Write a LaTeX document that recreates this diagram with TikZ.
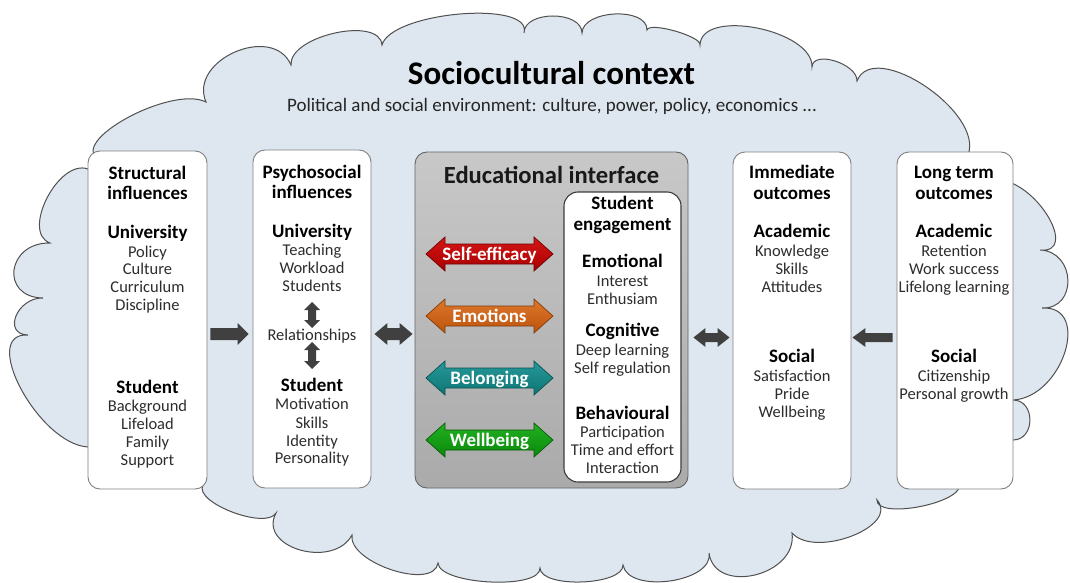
\documentclass[tikz,border=0pt]{standalone}
\usepackage{fontspec}
\setmainfont{Carlito}
\usetikzlibrary{calc}
\definecolor{cloudfill}{RGB}{222,231,240}
\definecolor{cloudline}{RGB}{80,80,80}
\definecolor{boxline}{RGB}{128,128,128}
\definecolor{innerline}{RGB}{60,60,60}
\definecolor{bodytext}{RGB}{45,45,45}
\definecolor{arrgray}{RGB}{64,64,64}
\definecolor{eduTop}{RGB}{200,200,200}
\definecolor{eduBot}{RGB}{170,170,170}
\definecolor{eduLine}{RGB}{100,100,100}
\definecolor{redT}{RGB}{214,22,22}\definecolor{redB}{RGB}{168,0,0}\definecolor{redL}{RGB}{110,0,0}
\definecolor{orT}{RGB}{222,118,42}\definecolor{orB}{RGB}{188,84,14}\definecolor{orL}{RGB}{130,60,10}
\definecolor{teT}{RGB}{38,152,152}\definecolor{teB}{RGB}{14,118,118}\definecolor{teL}{RGB}{10,80,80}
\definecolor{grT}{RGB}{34,176,34}\definecolor{grB}{RGB}{10,138,10}\definecolor{grL}{RGB}{10,90,10}
\newcommand\cbump[3]{.. controls ($0.3333*(#1)+1.3333*(#2)-0.6667*(#3)$) and ($0.3333*(#3)+1.3333*(#2)-0.6667*(#1)$) .. (#3)}
\newcommand\sarrow[6]{%
 \path[#1] ($(#2)!#4!90:(#3)$) -- ($(#3)!#6!(#2)!#4!-90:(#2)$) -- ($(#3)!#6!(#2)!#5!-90:(#2)$) -- (#3) -- ($(#3)!#6!(#2)!#5!90:(#2)$) -- ($(#3)!#6!(#2)!#4!90:(#2)$) -- ($(#2)!#4!-90:(#3)$) -- cycle;}
\newcommand\darrow[6]{%
 \path[#1] (#2) -- ($(#2)!#6!(#3)!#5!90:(#3)$) -- ($(#2)!#6!(#3)!#4!90:(#3)$) -- ($(#3)!#6!(#2)!#4!-90:(#2)$) -- ($(#3)!#6!(#2)!#5!-90:(#2)$) -- (#3) -- ($(#3)!#6!(#2)!#5!90:(#2)$) -- ($(#3)!#6!(#2)!#4!90:(#2)$) -- ($(#2)!#6!(#3)!#4!-90:(#3)$) -- ($(#2)!#6!(#3)!#5!-90:(#3)$) -- cycle;}
\tikzset{
 cloudsty/.style={fill=cloudfill, draw=cloudline, line width=1pt},
 wbox/.style={draw=boxline, fill=white, rounded corners=12pt, line width=0.9pt, inner sep=0pt},
 edubox/.style={draw=eduLine, top color=eduTop, bottom color=eduBot, rounded corners=12pt, line width=0.9pt, inner sep=0pt},
 innerbox/.style={draw=innerline, fill=white, rounded corners=14pt, line width=1.1pt, inner sep=0pt},
 grayarrow/.style={fill=arrgray},
 body/.style={anchor=base, inner sep=0pt, text=bodytext, font=\fontsize{16.5}{18}\selectfont},
 head/.style={anchor=base, inner sep=0pt, text=black, font=\fontsize{19}{21}\selectfont\bfseries},
 ttl/.style={anchor=base, inner sep=0pt, text=black, font=\fontsize{33}{36}\selectfont\bfseries},
 subttl/.style={anchor=base, inner sep=0pt, text=black!85, font=\fontsize{19}{22}\selectfont},
 edutitle/.style={anchor=base, inner sep=0pt, text=black!90, font=\fontsize{24.6}{27}\selectfont\bfseries},
 lbl/.style={anchor=base, inner sep=0pt, text=white, font=\fontsize{19}{21}\selectfont\bfseries},
}
\begin{document}
\begin{tikzpicture}[x=1pt,y=-1pt]
\useasboundingbox (0,0) rectangle (1070,583);
% cloud
\path[cloudsty] (88,447)
 \cbump{88,447}{21,389}{28,335}
 \cbump{28,335}{16,316}{43,298}
 \cbump{43,298}{14,270}{50,243}
 \cbump{50,243}{47,198}{88,169}
 -- (100,160)
 \cbump{100,160}{127,118}{206,102}
 \cbump{206,102}{235,52}{291,65}
 \cbump{291,65}{335,33}{382,45}
 \cbump{382,45}{460,14}{524,33}
 \cbump{524,33}{553,16}{582,33}
 \cbump{582,33}{615,14}{647,30}
 \cbump{647,30}{675,31}{700,45}
 \cbump{700,45}{757,28}{812,67}
 \cbump{812,67}{835,61}{857,81}
 \cbump{857,81}{925,86}{968,155}
 -- (1000,180)
 \cbump{1000,180}{1049,218}{1040,250}
 \cbump{1040,250}{1068,280}{1042,308}
 \cbump{1042,308}{1065,352}{1013,400}
 \cbump{1013,400}{1030,420}{1013,440}
 -- (1000,455) -- (960,485)
 \cbump{960,485}{918,507}{877,500}
 \cbump{877,500}{852,536}{792,533}
 \cbump{792,533}{755,575}{709,553}
 \cbump{709,553}{670,581}{623,565}
 \cbump{623,565}{582,582}{540,568}
 \cbump{540,568}{490,582}{438,563}
 \cbump{438,563}{392,570}{352,535}
 \cbump{352,535}{300,550}{276,513}
 \cbump{276,513}{232,512}{203,485}
 -- cycle;
% title
\node[ttl] (title) at (551.5,85) {Sociocultural context};
\node[subttl] (subtitle) at (552,112) {Political and social environment: culture, power, policy, economics ...};
% boxes
\node[wbox, minimum width=119pt, minimum height=338pt] (struct) at (147.5,320) {};
\node[wbox, minimum width=118pt, minimum height=338pt] (psych) at (312,319) {};
\node[edubox, minimum width=273pt, minimum height=336pt] (edu) at (551.5,320) {};
\node[innerbox, minimum width=117pt, minimum height=290pt] (inner) at (622.5,337) {};
\node[wbox, minimum width=118pt, minimum height=337pt] (immed) at (792,320.5) {};
\node[wbox, minimum width=116pt, minimum height=337pt] (longt) at (955,320.5) {};
% structural texts
\foreach \t/\y [count=\i] in {Structural/179, influences/199, University/238, Student/393}
  \node[head] (sh\i) at (147.5,\y) {\t};
\foreach \t/\y [count=\i] in {Policy/257, Culture/274, Curriculum/292, Discipline/310, Background/411, Lifeload/429, Family/447, Support/465}
  \node[body] (sb\i) at (147.5,\y) {\t};
% psychosocial texts
\foreach \t/\y [count=\i] in {Psychosocial/178, influences/198, University/237, Student/391}
  \node[head] (ph\i) at (312,\y) {\t};
\foreach \t/\y [count=\i] in {Teaching/255, Workload/273, Students/291, Motivation/409, Skills/428, Identity/446, Personality/463}
  \node[body] (pb\i) at (312,\y) {\t};
\node[body] (rel) at (312,340) {Relationships};
% educational interface
\node[edutitle] (edutitle) at (551.5,183) {Educational interface};
\foreach \t/\y [count=\i] in {Student/209, engagement/230, Emotional/267, Cognitive/336, Behavioural/419}
  \node[head] (eh\i) at (622.5,\y) {\t};
\foreach \t/\y [count=\i] in {Interest/286, Enthusiam/304, Deep learning/355, Self regulation/373, Participation/437, Time and effort/455, Interaction/473}
  \node[body] (eb\i) at (622.5,\y) {\t};
% immediate outcomes
\foreach \t/\y [count=\i] in {Immediate/178, outcomes/199, Academic/237, Social/362}
  \node[head] (ih\i) at (792,\y) {\t};
\foreach \t/\y [count=\i] in {Knowledge/256, Skills/274, Attitudes/292, Satisfaction/381, Pride/399, Wellbeing/417}
  \node[body] (ib\i) at (792,\y) {\t};
% long term outcomes
\foreach \t/\y [count=\i] in {Long term/178, outcomes/199, Academic/237, Social/362}
  \node[head] (lh\i) at (954,\y) {\t};
\foreach \t/\y [count=\i] in {Retention/256, Work success/274, Lifelong learning/292, Citizenship/381, Personal growth/399}
  \node[body] (lb\i) at (954,\y) {\t};
% colored double arrows
\coordinate (se1) at (426,254); \coordinate (se2) at (553,254);
\coordinate (em1) at (426,316); \coordinate (em2) at (553,316);
\coordinate (be1) at (426,378); \coordinate (be2) at (553,378);
\coordinate (wb1) at (426,440); \coordinate (wb2) at (553,440);
\darrow{draw=redL, line width=0.7pt, top color=redT, bottom color=redB}{se1}{se2}{10pt}{17pt}{19pt}
\darrow{draw=orL, line width=0.7pt, top color=orT, bottom color=orB}{em1}{em2}{10pt}{17pt}{19pt}
\darrow{draw=teL, line width=0.7pt, top color=teT, bottom color=teB}{be1}{be2}{10pt}{17pt}{19pt}
\darrow{draw=grL, line width=0.7pt, top color=grT, bottom color=grB}{wb1}{wb2}{10pt}{17pt}{19pt}
\node[lbl] (selfeff) at ($(se1)!0.5!(se2)+(0,6)$) {Self-efficacy};
\node[lbl] (emot) at ($(em1)!0.5!(em2)+(0,6)$) {Emotions};
\node[lbl] (belong) at ($(be1)!0.5!(be2)+(0,6)$) {Belonging};
\node[lbl] (wellb) at ($(wb1)!0.5!(wb2)+(0,6)$) {Wellbeing};
% gray connectors
\coordinate (ry) at (0,334);
\coordinate (ry2) at (0,337.5);
\coordinate (a1t) at ($(struct.east |- ry)+(3,0)$);
\coordinate (a1h) at ($(psych.west |- ry)+(-4,0)$);
\coordinate (a2a) at ($(psych.east |- ry)+(3,0)$);
\coordinate (a2b) at ($(edu.west |- ry)+(-2,0)$);
\coordinate (a3a) at ($(edu.east |- ry2)+(5,0)$);
\coordinate (a3b) at ($(immed.west |- ry2)+(-3,0)$);
\coordinate (a4t) at ($(longt.west |- ry2)+(-4,0)$);
\coordinate (a4h) at ($(immed.east |- ry2)+(1,0)$);
\sarrow{grayarrow}{a1t}{a1h}{6pt}{11pt}{11pt}
\darrow{grayarrow}{a2a}{a2b}{6pt}{11pt}{13pt}
\darrow{grayarrow}{a3a}{a3b}{4.5pt}{9.5pt}{12pt}
\sarrow{grayarrow}{a4t}{a4h}{4.5pt}{9.5pt}{13pt}
% vertical arrows around Relationships
\coordinate (v1a) at (312,302); \coordinate (v1b) at (312,328);
\coordinate (v2a) at (312,342); \coordinate (v2b) at (312,369);
\darrow{grayarrow}{v1a}{v1b}{4pt}{8pt}{8pt}
\darrow{grayarrow}{v2a}{v2b}{4pt}{8pt}{8pt}
\end{tikzpicture}
\end{document}
